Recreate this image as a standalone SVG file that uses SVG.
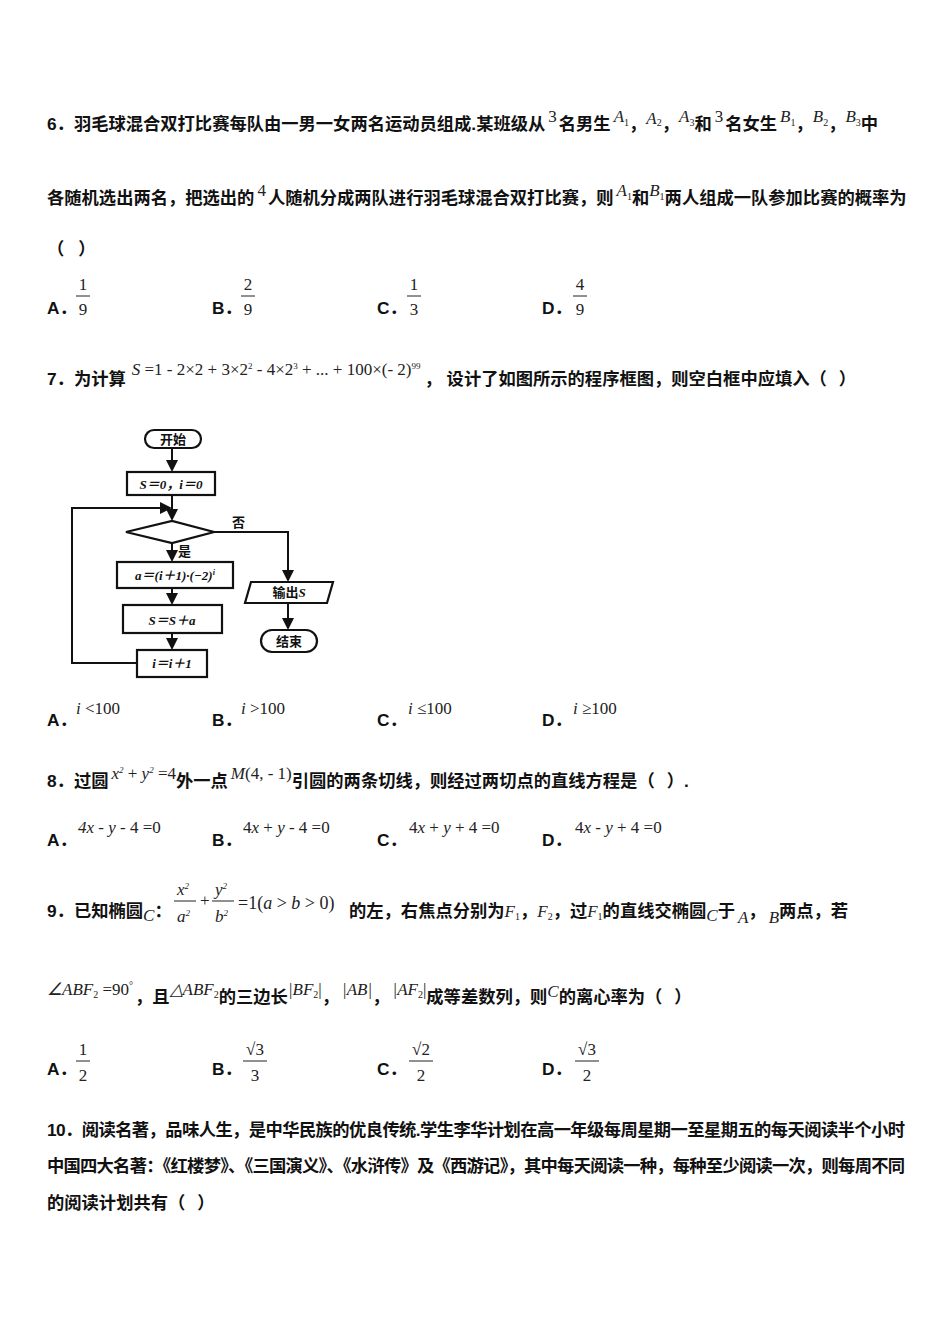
<svg xmlns="http://www.w3.org/2000/svg" width="950" height="1344" viewBox="0 0 950 1344">
<style>
.t{font-family:"Liberation Sans","Noto Sans CJK SC",sans-serif;font-size:17.3px;font-weight:bold;fill:#111}
.m{font-family:"Liberation Serif","Noto Sans CJK SC",serif;font-size:17px;fill:#222}
.mi{font-family:"Liberation Serif",serif;font-size:17px;font-style:italic;fill:#222}
.s{font-family:"Liberation Serif",serif;font-size:10px;fill:#222}
.f{font-family:"Liberation Serif","Noto Sans CJK SC",serif;font-size:13px;font-weight:bold;fill:#111}
.b{fill:#fff;stroke:#111;stroke-width:2.2}
.l{fill:none;stroke:#111;stroke-width:2}
</style>
<defs><marker id="a" markerWidth="6" markerHeight="6" refX="5" refY="3" orient="auto"><path d="M0,0L6,3L0,6z" fill="#111"/></marker></defs>
<rect width="950" height="1344" fill="#fff"/>
<text class="t" x="47" y="130">6．羽毛球混合双打比赛每队由一男一女两名运动员组成.某班级从<tspan class="m" font-weight="normal" dx="3" dy="-8">3</tspan><tspan dx="2" dy="8">名男生</tspan><tspan class="mi" font-weight="normal" dx="3" dy="-8">A</tspan><tspan class="s" font-weight="normal" dy="4">1</tspan><tspan dy="4">，</tspan><tspan class="mi" font-size="13" font-weight="normal" dy="-6">A</tspan><tspan class="s" font-weight="normal" dy="2">2</tspan><tspan dy="4">，</tspan><tspan class="mi" font-weight="normal" dy="-8">A</tspan><tspan class="s" font-weight="normal" dy="4">3</tspan><tspan dy="4">和</tspan><tspan class="m" font-weight="normal" dx="3" dy="-8">3</tspan><tspan dx="2" dy="8">名女生</tspan><tspan class="mi" font-weight="normal" dx="3" dy="-8">B</tspan><tspan class="s" font-weight="normal" dy="4">1</tspan><tspan dy="4">，</tspan><tspan class="mi" font-weight="normal" dy="-8">B</tspan><tspan class="s" font-weight="normal" dy="4">2</tspan><tspan dy="4">，</tspan><tspan class="mi" font-weight="normal" dy="-8">B</tspan><tspan class="s" font-weight="normal" dy="4">3</tspan><tspan dy="4">中</tspan></text>
<text class="t" x="47" y="204">各随机选出两名，把选出的<tspan class="m" font-weight="normal" dx="3" dy="-8">4</tspan><tspan dx="2" dy="8">人随机分成两队进行羽毛球混合双打比赛，则</tspan><tspan class="mi" font-weight="normal" dx="3" dy="-8">A</tspan><tspan class="s" font-weight="normal" dy="4">1</tspan><tspan dy="4">和</tspan><tspan class="mi" font-weight="normal" dy="-8">B</tspan><tspan class="s" font-weight="normal" dy="4">1</tspan><tspan dy="4">两人组成一队参加比赛的概率为</tspan></text>
<text class="t" x="47" y="255">（<tspan dx="14">）</tspan></text>
<g class="m" text-anchor="middle">
<text class="t" x="47" y="314" text-anchor="start" font-size="15">A．</text><text x="83" y="290">1</text><line x1="76" y1="296" x2="90" y2="296" stroke="#222"/><text x="83" y="315">9</text>
<text class="t" x="212" y="314" text-anchor="start" font-size="15">B．</text><text x="248" y="290">2</text><line x1="241" y1="296" x2="255" y2="296" stroke="#222"/><text x="248" y="315">9</text>
<text class="t" x="377" y="314" text-anchor="start" font-size="15">C．</text><text x="414" y="290">1</text><line x1="407" y1="296" x2="421" y2="296" stroke="#222"/><text x="414" y="315">3</text>
<text class="t" x="542" y="314" text-anchor="start" font-size="15">D．</text><text x="580" y="290">4</text><line x1="573" y1="296" x2="587" y2="296" stroke="#222"/><text x="580" y="315">9</text>
</g>
<text class="t" x="47" y="385">7．为计算<tspan class="m" font-weight="normal" dx="6" dy="-10"><tspan font-style="italic">S</tspan> =1 -  2×2 + 3×2<tspan font-size="9" dy="-6">2</tspan><tspan dy="6"> -  4×2</tspan><tspan font-size="9" dy="-6">3</tspan><tspan dy="6"> + ... + 100×(- 2)</tspan><tspan font-size="9" dy="-6">99</tspan></tspan><tspan dx="4" dy="16">，  设计了如图所示的程序框图，则空白框中应填入（</tspan><tspan dx="12">）</tspan></text>
<g id="connectors">
<line class="l" x1="172" y1="448" x2="172" y2="470" marker-end="url(#a)"/>
<line class="l" x1="172" y1="495" x2="172" y2="519" marker-end="url(#a)"/>
<line class="l" x1="172" y1="543" x2="172" y2="560" marker-end="url(#a)"/>
<line class="l" x1="172" y1="588" x2="172" y2="603" marker-end="url(#a)"/>
<line class="l" x1="172" y1="633" x2="172" y2="648" marker-end="url(#a)"/>
<polyline class="l" points="137,663 72,663 72,508 170,508" marker-end="url(#a)"/>
<polyline class="l" points="214,532 288,532 288,580" marker-end="url(#a)"/>
<line class="l" x1="288" y1="603" x2="288" y2="628" marker-end="url(#a)"/>
<text class="f" x="232" y="527">否</text><text class="f" x="178" y="556">是</text>
</g>
<g id="start"><rect class="b" x="145" y="430" width="56" height="18" rx="9"/><text class="f" x="173" y="444" text-anchor="middle">开始</text></g>
<g id="init"><rect class="b" x="127" y="472" width="88" height="23"/><text class="f" x="171" y="489" text-anchor="middle" font-style="italic">S＝0，i＝0</text></g>
<g id="cond"><polygon class="b" points="126,532 172,521 214,532 172,543"/></g>
<g id="calc"><rect class="b" x="117" y="562" width="116" height="26"/><text class="f" x="175" y="580" text-anchor="middle" font-style="italic">a＝(i＋1)·(−2)<tspan font-size="8" dy="-5">i</tspan></text></g>
<g id="sum"><rect class="b" x="123" y="605" width="99" height="28"/><text class="f" x="172" y="625" text-anchor="middle" font-style="italic" font-size="17">S＝S＋a</text></g>
<g id="inc"><rect class="b" x="137" y="650" width="70" height="27"/><text class="f" x="172" y="668" text-anchor="middle" font-style="italic">i＝i＋1</text></g>
<g id="out"><polygon class="b" points="251,582 333,582 327,603 245,603"/><text class="f" x="289" y="597" text-anchor="middle">输出<tspan font-style="italic">S</tspan></text></g>
<g id="end"><rect class="b" x="261" y="630" width="56" height="22" rx="11"/><text class="f" x="289" y="646" text-anchor="middle">结束</text></g>
<text class="t" x="47" y="726" font-size="15">A．</text><text class="mi" x="76" y="714">i <tspan font-style="normal">&lt;100</tspan></text>
<text class="t" x="212" y="726" font-size="15">B．</text><text class="mi" x="241" y="714">i <tspan font-style="normal">&gt;100</tspan></text>
<text class="t" x="377" y="726" font-size="15">C．</text><text class="mi" x="408" y="714">i <tspan font-style="normal">≤100</tspan></text>
<text class="t" x="542" y="726" font-size="15">D．</text><text class="mi" x="573" y="714">i <tspan font-style="normal">≥100</tspan></text>
<text class="t" x="47" y="787">8．过圆<tspan class="mi" font-weight="normal" dx="3" dy="-8">x<tspan font-size="9" dy="-6">2</tspan><tspan font-style="normal" dy="6"> + </tspan>y<tspan font-size="9" dy="-6">2</tspan><tspan font-style="normal" dy="6"> =4</tspan></tspan><tspan dy="8">外一点</tspan><tspan class="mi" font-weight="normal" dx="3" dy="-8">M<tspan font-style="normal">(4, - 1)</tspan></tspan><tspan dy="8">引圆的两条切线，则经过两切点的直线方程是（</tspan><tspan dx="12">）.</tspan></text>
<text class="t" x="47" y="846" font-size="15">A．</text><text class="m" x="78" y="833"><tspan font-style="italic">4x</tspan> -  <tspan font-style="italic">y</tspan> -  4 =0</text>
<text class="t" x="212" y="846" font-size="15">B．</text><text class="m" x="243" y="833">4<tspan font-style="italic">x</tspan> + <tspan font-style="italic">y</tspan> -  4 =0</text>
<text class="t" x="377" y="846" font-size="15">C．</text><text class="m" x="409" y="833">4<tspan font-style="italic">x</tspan> + <tspan font-style="italic">y</tspan> + 4 =0</text>
<text class="t" x="542" y="846" font-size="15">D．</text><text class="m" x="575" y="833">4<tspan font-style="italic">x</tspan> -  <tspan font-style="italic">y</tspan> + 4 =0</text>
<text class="t" x="47" y="917">9．已知椭圆<tspan class="mi" font-weight="normal" dy="4">C</tspan><tspan dy="-4">：</tspan></text>
<g class="mi"><text x="177" y="895">x<tspan font-size="9" dy="-6">2</tspan></text><line x1="174" y1="901" x2="196" y2="901" stroke="#222"/><text x="177" y="922">a<tspan font-size="9" dy="-6">2</tspan></text>
<text x="200" y="906" font-style="normal">+</text>
<text x="215" y="895">y<tspan font-size="9" dy="-6">2</tspan></text><line x1="212" y1="901" x2="234" y2="901" stroke="#222"/><text x="215" y="922">b<tspan font-size="9" dy="-6">2</tspan></text>
<text x="238" y="909" font-style="normal" font-size="18">=1(<tspan font-style="italic">a</tspan> &gt; <tspan font-style="italic">b</tspan> &gt; 0)</text></g>
<text class="t" x="349" y="917">的左，右焦点分别为<tspan class="mi" font-weight="normal">F</tspan><tspan class="s" font-weight="normal" dy="3">1</tspan><tspan dy="-3">，</tspan><tspan class="mi" font-weight="normal">F</tspan><tspan class="s" font-weight="normal" dy="3">2</tspan><tspan dy="-3">，过</tspan><tspan class="mi" font-weight="normal">F</tspan><tspan class="s" font-weight="normal" dy="3">1</tspan><tspan dy="-3">的直线交椭圆</tspan><tspan class="mi" font-weight="normal" dy="4">C</tspan><tspan dy="-4">于</tspan><tspan class="mi" font-weight="normal" dx="3" dy="6">A</tspan><tspan dy="-6">，</tspan><tspan class="mi" font-weight="normal" dx="3" dy="6">B</tspan><tspan dy="-6">两点，若</tspan></text>
<text class="t" x="47" y="1003"><tspan class="mi" font-weight="normal" dy="-8">∠ABF</tspan><tspan class="s" font-weight="normal" dy="3">2</tspan><tspan class="m" font-weight="normal" dy="-3"> =90</tspan><tspan class="s" font-weight="normal" dy="-6">°</tspan><tspan dx="2" dy="14">，且</tspan><tspan class="mi" font-weight="normal" dy="-8">△ABF</tspan><tspan class="s" font-weight="normal" dy="3">2</tspan><tspan dy="5">的三边长</tspan><tspan class="mi" font-weight="normal" dy="-8">|BF</tspan><tspan class="s" font-weight="normal" dy="3">2</tspan><tspan class="m" font-weight="normal" dy="-3">|</tspan><tspan dy="8">，</tspan><tspan class="mi" font-weight="normal" dx="3" dy="-8">|AB|</tspan><tspan dy="8">，</tspan><tspan class="mi" font-weight="normal" dx="3" dy="-8">|AF</tspan><tspan class="s" font-weight="normal" dy="3">2</tspan><tspan class="m" font-weight="normal" dy="-3">|</tspan><tspan dy="8">成等差数列，则</tspan><tspan class="mi" font-weight="normal" dy="-6">C</tspan><tspan dy="6">的离心率为（</tspan><tspan dx="12">）</tspan></text>
<g class="m" text-anchor="middle">
<text class="t" x="47" y="1075" text-anchor="start" font-size="15">A．</text><text x="83" y="1055">1</text><line x1="76" y1="1061" x2="90" y2="1061" stroke="#222"/><text x="83" y="1081">2</text>
<text class="t" x="212" y="1075" text-anchor="start" font-size="15">B．</text><text x="255" y="1055">√3</text><line x1="243" y1="1061" x2="267" y2="1061" stroke="#222"/><text x="255" y="1081">3</text>
<text class="t" x="377" y="1075" text-anchor="start" font-size="15">C．</text><text x="421" y="1055">√2</text><line x1="409" y1="1061" x2="433" y2="1061" stroke="#222"/><text x="421" y="1081">2</text>
<text class="t" x="542" y="1075" text-anchor="start" font-size="15">D．</text><text x="587" y="1055">√3</text><line x1="575" y1="1061" x2="599" y2="1061" stroke="#222"/><text x="587" y="1081">2</text>
</g>
<text class="t" x="47" y="1136" textLength="858">10．阅读名著，品味人生，是中华民族的优良传统.学生李华计划在高一年级每周星期一至星期五的每天阅读半个小时</text>
<text class="t" x="47" y="1172" textLength="858">中国四大名著：《红楼梦》、《三国演义》、《水浒传》及《西游记》，其中每天阅读一种，每种至少阅读一次，则每周不同</text>
<text class="t" x="47" y="1209">的阅读计划共有（<tspan dx="12">）</tspan></text>
</svg>
